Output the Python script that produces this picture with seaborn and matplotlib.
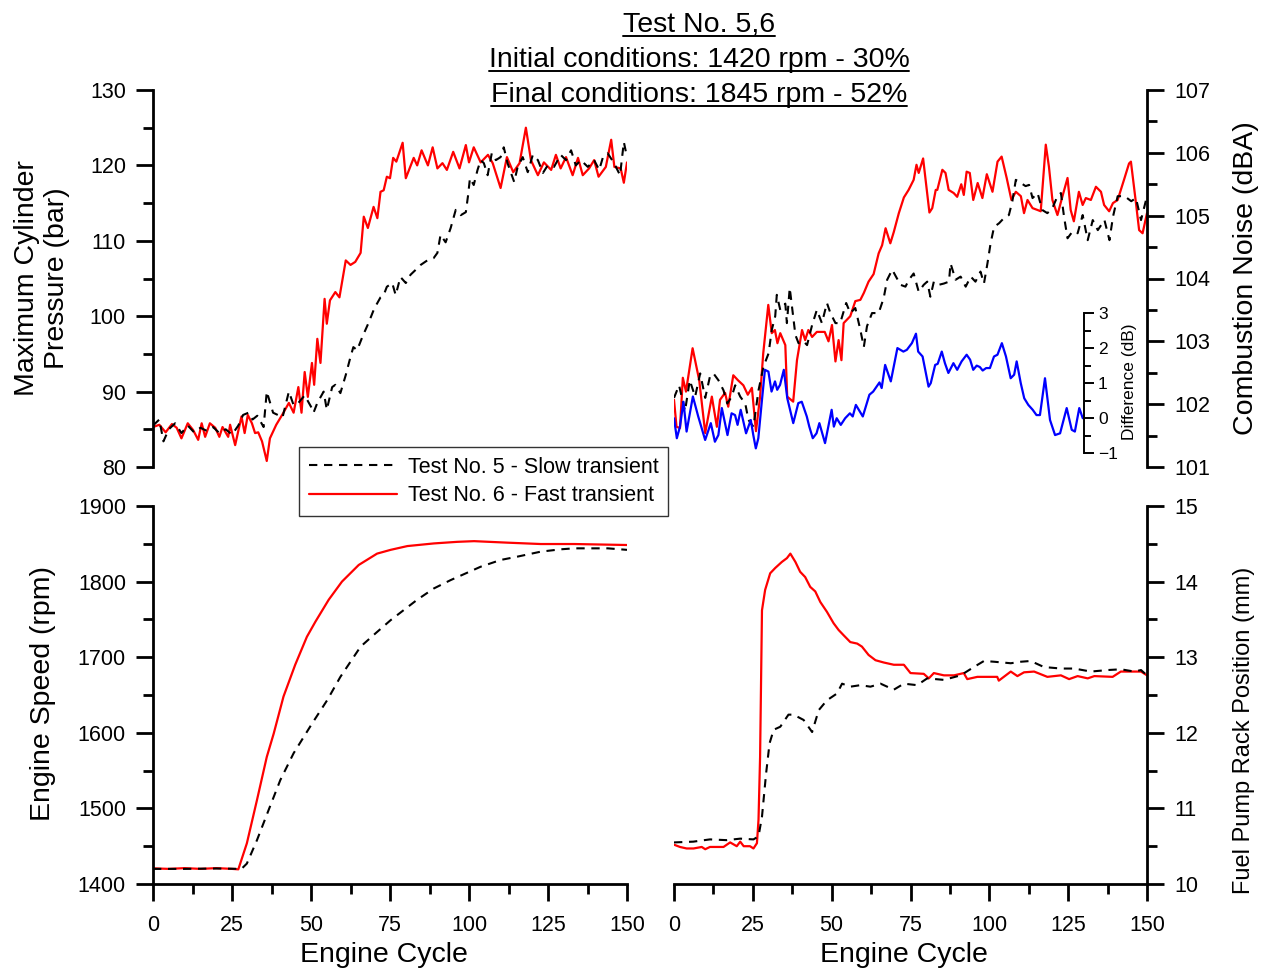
import numpy as np
import pandas as pd
import matplotlib
matplotlib.use("Agg")
import matplotlib.pyplot as plt
import seaborn as sns
from matplotlib.ticker import MultipleLocator
from matplotlib.lines import Line2D
from matplotlib import font_manager

sns.set_style("ticks")
plt.rcParams['font.family'] = ['Liberation Sans', 'DejaVu Sans']
for k in ("text.color", "axes.labelcolor", "xtick.color", "ytick.color", "axes.edgecolor"):
    plt.rcParams[k] = "black"

# ---------------- data (engine cycle, value) ----------------
title_lines = ["Test No. 5,6", "Initial conditions: 1420 rpm - 30%", "Final conditions: 1845 rpm - 52%"]
legend_labels = ["Test No. 5 - Slow transient", "Test No. 6 - Fast transient"]

pressure_t6 = [(0,85.3),(2,85.6),(4,84.6),(6,85.7),(7.5,85.2),(9,83.8),(11,85.8),(12.7,84.9),(14.3,83.6),(15.4,85.8),
 (16.5,84.0),(18,85.8),(19.7,85.2),(21,84.0),(22,85.3),(23.8,84.0),(24.4,85.6),(26,82.9),(28,86.7),(29,84.5),(30,86.9),
 (31.3,85.8),(32.3,84.5),(33.3,84.6),(34.5,83.4),(36,80.8),(37,83.8),(39,85.6),(41,87),(43,88.5),(44.5,87.2),(46,90.6),
 (47,87.2),(48,92.6),(49,89.3),(50.3,93.8),(51,90.9),(52,97),(53,93.8),(54.3,102.3),(55,99),(56,102.1),(57.7,103.2),
 (59,102.5),(61,107.4),(62.5,106.8),(64,107.2),(65.7,108.4),(66.7,113.2),(68,111.7),(69.8,114.5),(71,113),(72,116.5),
 (73,116.7),(74,118.5),(75,118.3),(76,121),(77,120.5),(79,123),(80,118.3),(82.5,121),(83.6,120),(85,122),(87,120),
 (88.5,122.4),(90,119.6),(91.6,120.3),(93,119.4),(95,121.8),(97,119.6),(99,122.7),(100,120.4),(101.5,122.4),(103.7,120.4),
 (106,121.4),(107.5,120.3),(110,117),(112,121.1),(114,119.1),(116,120.3),(118,125),(119.6,120.7),(121.8,118.7),(123.7,120.4),
 (126,119.4),(127.5,121.4),(129,119.6),(130.7,121.1),(132.8,118.7),(134.5,121),(136,118.7),(138,119.6),(139.6,120.7),
 (141,118.5),(143.3,119.8),(145,123.4),(146,119.8),(148,119.6),(149,117.7),(150,120.4)]

pressure_t5 = [(0,85.5),(2,86.3),(3.3,83.4),(5,85),(7,85.8),(9,84.5),(11,85.5),(13,84.6),(15,85.2),(17,84.8),(19,85.3),
 (21,84.5),(23,85),(25,84.3),(27,85.5),(28.5,86.9),(30.2,87.2),(31.5,86.3),(33,86.8),(35,85.3),(36,90),(38,87.2),(41,86.6),
 (43,90),(44.5,88.2),(46,88.5),(48,89.5),(50,88),(50.8,87.2),(52,88.5),(54,90),(55,87.6),(56.7,90.6),(57.7,90.9),(59.3,89.8),
 (61,92.2),(62.5,94.6),(63.4,95.9),(64.6,95.5),(66.3,97.3),(68.2,99.1),(70,101),(72,102.5),(73,102.8),(74,103.9),(75.7,104.4),
 (76.8,102.8),(78.3,105.2),(80,104.4),(81.5,105.5),(83,106.1),(84.7,106.8),(86.8,107.4),(88.8,107.7),(90,108.4),(91,110.8),
 (92.6,109.8),(94.2,111.7),(95.8,114.1),(97.4,113.4),(99,113.8),(99.7,116),(100.3,118.3),(101.5,117.4),(102.7,119.4),
 (103.7,120.7),(104.7,120.3),(105.9,118.7),(107.2,121.6),(108.5,120.7),(110,121.1),(111,122.4),(112.2,120.3),(114.3,117.8),
 (115.4,119.8),(117,121.1),(118.6,119.1),(120.2,121.4),(121.8,120.7),(123.4,119),(124.9,120),(126.9,119.8),(129,121.4),
 (130.7,120.7),(132.3,122),(133.8,120),(135.4,120.7),(137.6,119.8),(139.6,120.7),(141.2,119.4),(142.4,121.1),(143.9,121.6),
 (145.9,120.3),(147.8,118.7),(149,123.1),(150,121.1)]

noise_t6 = [(0,102.07),(0.8,101.64),(1.9,101.62),(2.8,102.42),(3.8,102.2),(5.9,102.89),(8,102.38),(9.9,101.54),(12,102.12),
 (13.6,101.64),(14.6,102.07),(16.2,102.18),(17.2,101.96),(18.8,102.46),(20.3,102.38),(22,102.3),(23.4,102.15),(24.7,102.26),
 (26,101.57),(27.3,102.12),(28.3,102.81),(29.9,103.58),(31,103.13),(32,103.18),(32.8,102.97),(33.7,103.13),(35.3,102.94),
 (35.9,102.12),(37.8,102.04),(39,102.7),(40.6,103.18),(41.6,103.02),(42.6,103.18),(43.8,103.07),(45.3,103.15),(46.9,103.15),
 (47.8,103.15),(49,103.0),(50.1,103.26),(51.2,102.68),(52.2,103.02),(53.1,102.7),(53.8,103.29),(55.9,103.4),(57.5,103.64),
 (59.1,103.66),(60.2,103.77),(61.7,103.95),(63.3,104.07),(64.9,104.4),(66,104.53),(67.1,104.8),(68.6,104.56),(69.7,104.74),
 (71.3,105.04),(72.9,105.29),(74.4,105.41),(76,105.57),(76.9,105.81),(77.6,105.68),(79,105.91),(81,105.05),(81.9,105.12),
 (83,105.41),(83.5,105.41),(85.1,105.73),(86.1,105.68),(87.1,105.41),(88.7,105.36),(89.8,105.3),(91.1,105.5),(91.9,105.33),
 (92.8,105.7),(93.8,105.68),(94.9,105.25),(96.3,105.52),(97.8,105.28),(99.2,105.66),(101,105.38),(102.6,105.86),(103.9,105.94),
 (105.5,105.6),(107,105.25),(108.4,105.38),(110,105.31),(111,105.04),(112.1,105.25),(113.7,105.12),(115.3,105.09),
 (116.3,105.07),(117.9,106.13),(118.9,105.78),(120,105.25),(121.6,105.01),(123.2,105.31),(124.8,105.6),(125.8,105.09),
 (126.8,104.91),(128.4,105.38),(129.6,105.17),(130.6,105.28),(132.2,105.25),(133.8,105.46),(135.4,105.38),(136.4,105.17),
 (138,105.07),(139.2,105.2),(140.7,105.25),(142.7,105.57),(144.3,105.83),(144.9,105.86),(146.5,105.2),(147.5,104.77),
 (148.6,104.72),(150,105.04)]

noise_t5 = [(0,102.1),(1.6,102.3),(3.5,101.89),(5,102.38),(6.7,102.12),(8.3,102.49),(9.9,102.1),(11.4,102.44),(12.5,102.49),
 (14.1,102.38),(15.7,102.22),(16.9,102.01),(18.3,102.12),(19.4,102.3),(21,102.12),(22.6,102.01),(23.6,101.75),(25.2,101.64),
 (26.8,102.22),(28.4,102.6),(30,102.81),(31,103.18),(32.1,103.4),(32.6,103.74),(33.7,103.5),(35.3,103.6),(35.8,103.29),
 (36.7,103.85),(37.4,103.56),(38.5,103.1),(39.5,102.97),(41.1,103.0),(42.2,102.94),(43.8,103.26),(45.3,103.5),(46.9,103.29),
 (48.5,103.61),(49.6,103.45),(51.2,103.29),(52.7,103.29),(54.6,103.61),(55.9,103.45),(57.5,103.53),(59.1,103.18),(60.2,102.91),
 (61.2,103.24),(62.8,103.45),(64.9,103.45),(66.5,103.69),(67.6,103.98),(69.2,104.14),(71.8,103.9),(73.4,103.87),(74.5,103.98),
 (76,104.08),(77.6,103.79),(79.2,103.9),(80.3,103.95),(81.3,103.71),(82.4,103.95),(84,103.9),(85.6,103.92),(87.2,103.95),
 (87.7,104.24),(89.3,103.98),(90.9,104.03),(92.5,103.87),(94.1,104.03),(95.6,103.95),(97.2,104.11),(98.3,103.92),(99.4,104.24),
 (100.4,104.56),(101.5,104.82),(103.1,104.88),(104.6,104.96),(106.2,105.01),(107.3,105.23),(108.4,105.57),(110,105.52),
 (111.5,105.47),(112.6,105.49),(113.7,105.28),(115.3,105.36),(116.8,105.09),(118.4,105.04),(120,105.12),(121.6,105.31),
 (122.7,105.36),(123.7,104.98),(124.8,104.64),(126.4,104.75),(128,104.72),(129.6,105.01),(131.2,104.61),(132.8,104.93),
 (134.4,104.77),(136.5,104.93),(138.1,104.61),(139.2,104.98),(140.7,105.31),(142.9,105.31),(145,105.23),(146.5,105.28),
 (148.1,104.93),(149.7,105.25)]

noise_diff = [(0,0.0),(0.9,-0.57),(1.9,-0.24),(3,0.47),(4,-0.38),(6,0.62),(7.7,0.05),(9.9,-0.62),(11.7,-0.14),(13,-0.67),
 (14.1,-0.48),(15.2,0.29),(17,-0.48),(18.3,0.14),(19.4,0.09),(20.2,-0.19),(21.2,0.24),(22.9,-0.43),(24.4,-0.05),(25.2,-0.48),
 (26,-0.86),(26.8,-0.57),(27.9,0.47),(28.9,1.38),(30,1.33),(31,0.76),(32.1,1.05),(32.8,0.81),(33.7,0.95),(34.9,1.38),(36,0.57),
 (37.9,-0.14),(39.5,0.43),(40.6,0.47),(42.2,0.05),(43,-0.24),(44.1,-0.57),(45.3,-0.43),(46.2,-0.14),(48,-0.71),(50.1,0.24),
 (50.8,-0.24),(51.7,0.0),(53,-0.19),(54.4,0.0),(55.9,0.14),(56.8,0.05),(57.8,0.38),(60,0.05),(62.1,0.67),(63.3,0.76),
 (65.3,1.02),(66,0.86),(67.1,1.52),(68.9,1.05),(71,2.0),(72.9,1.9),(74,1.95),(75.6,2.14),(76.9,2.41),(77.6,1.9),(79,1.76),
 (80.9,0.9),(81.6,1.0),(83,1.52),(83.8,1.55),(85.1,1.9),(86.1,1.57),(87.2,1.29),(88.8,1.57),(90,1.38),(91.4,1.62),(93,1.81),
 (94.1,1.67),(95.1,1.38),(96.2,1.5),(97.2,1.46),(98.1,1.36),(99.2,1.43),(100.4,1.43),(101.7,1.76),(102.8,1.81),(104.2,2.14),
 (105.5,1.76),(107,1.14),(108.1,1.24),(108.9,1.62),(110.2,1.0),(111.3,0.57),(112.6,0.38),(114,0.24),(115.2,0.09),(116.3,0.09),
 (117.9,1.14),(119.5,-0.05),(121.1,-0.48),(122.7,-0.43),(124.8,0.29),(126.4,-0.33),(127.4,-0.38),(128.8,0.29),(129.9,0.0)]

speed_t6 = [(0,1420.7),(5,1420),(10,1421),(15,1420),(20,1421),(25,1420),(27,1419.4),(29.7,1453.8),(32.9,1511),(36,1568),
 (38.2,1599),(41.3,1648),(45,1690),(48.7,1727),(51.4,1747),(55.6,1776),(59.8,1800),(65.1,1822),(70.9,1837),(75.2,1842),
 (80.5,1847),(88.9,1850.5),(96.3,1852.6),(101.6,1853.5),(112.2,1851.5),(122.7,1849.7),(133.3,1849.7),(150,1848.4)]

speed_t5 = [(0,1420),(10,1420),(20,1420.5),(28,1420),(29.7,1427),(32.9,1458),(36.6,1498),(40.3,1537.6),(44.5,1573),
 (50.3,1612),(55.1,1643),(59.3,1674),(65.7,1714),(70.4,1731.5),(75.2,1749),(83.6,1776),(88.9,1791),(94.2,1802),
 (103.7,1819.7),(110,1828.6),(115.3,1833),(122.7,1839.6),(129,1842.7),(133.3,1844),(143.9,1844),(150,1842)]

rack_t6 = [(0,10.52),(1.9,10.49),(4,10.47),(6.2,10.47),(8.8,10.49),(9.9,10.46),(11.4,10.49),(15.7,10.49),(17.8,10.55),
 (19.9,10.5),(21,10.56),(22.1,10.5),(24.1,10.5),(25.2,10.47),(26.3,10.54),(26.8,10.85),(27.3,11.68),(27.9,13.62),(28.9,13.89),
 (30.5,14.11),(32.1,14.18),(34.2,14.26),(35.8,14.31),(36.9,14.37),(38.5,14.26),(40,14.13),(41.6,14.06),(43.2,13.93),
 (44.8,13.87),(46.4,13.73),(48.5,13.6),(50.6,13.45),(52.2,13.36),(53.8,13.29),(55.9,13.2),(58.1,13.18),(59.6,13.14),
 (61.7,13.03),(63.9,12.96),(66.5,12.93),(69.7,12.9),(72.9,12.9),(75,12.79),(79.2,12.78),(80.8,12.72),(82.4,12.79),
 (85.6,12.76),(88.8,12.76),(91.9,12.79),(93,12.71),(96.2,12.74),(102.5,12.74),(103,12.69),(106.8,12.81),(108.9,12.75),
 (111,12.8),(114.2,12.81),(118.4,12.74),(122.7,12.76),(125.3,12.71),(128,12.75),(131.2,12.72),(133.3,12.75),(139.1,12.74),
 (141.7,12.81),(144.9,12.81),(148.1,12.81),(150,12.76)]

rack_t5 = [(0,10.55),(6.1,10.56),(11.4,10.59),(16.7,10.58),(21,10.6),(25.2,10.59),(26.8,10.63),(27.9,10.89),(29.2,11.46),
 (30.3,11.86),(31.6,12.04),(33.7,12.08),(36.3,12.24),(37.9,12.24),(41.1,12.17),(43.8,12.01),(45.9,12.3),(48.5,12.43),
 (51.7,12.52),(53.3,12.65),(55.9,12.61),(59.1,12.63),(62.3,12.61),(65.5,12.65),(69.7,12.57),(72.9,12.65),(77.1,12.63),
 (80.3,12.72),(85.6,12.7),(90.9,12.76),(95.1,12.87),(98.3,12.95),(101.5,12.94),(106.8,12.92),(110,12.94),(113.1,12.95),
 (117.3,12.87),(122.7,12.85),(126.9,12.85),(132.2,12.81),(137.5,12.83),(141.7,12.84),(146,12.81),(148.1,12.83),(150,12.76)]

# ---------------- styling ----------------
W, H = 1271, 974
RED = "#ff0000"
BLACK = "#000000"
BLUE = "#0000ff"
DASH = (0, (4, 3.2))
TICK_FS = 15.5
LABEL_FS = 20.5

installed = {f.name for f in font_manager.fontManager.ttflist}
if "Liberation Sans Narrow" in installed:
    NARROW = dict(family=["Liberation Sans Narrow", "DejaVu Sans"], fontsize=LABEL_FS)
else:
    NARROW = dict(family=["Liberation Sans", "DejaVu Sans"], fontsize=17)

fig = plt.figure(figsize=(W / 100, H / 100), dpi=100)


def px_axes(x0, y0, x1, y1):
    return fig.add_axes([x0 / W, 1 - y1 / H, (x1 - x0) / W, (y1 - y0) / H])


ax_p = px_axes(153, 90, 627, 467)
ax_n = px_axes(674, 90, 1147, 467)
ax_s = px_axes(153, 506, 627, 884)
ax_r = px_axes(674, 506, 1147, 884)
ax_d = px_axes(674, 313, 1084, 453.3)


def draw(ax, series, color, dashed=False, lw=1.6):
    df = pd.DataFrame(series, columns=["cycle", "value"])
    kw = dict(linestyle=DASH) if dashed else {}
    sns.lineplot(data=df, x="cycle", y="value", ax=ax, color=color, lw=lw,
                 estimator=None, sort=False, legend=False, **kw)


draw(ax_p, pressure_t6, RED)
draw(ax_p, pressure_t5, BLACK, dashed=True, lw=1.5)
draw(ax_n, noise_t6, RED)
draw(ax_n, noise_t5, BLACK, dashed=True, lw=1.5)
draw(ax_d, noise_diff, BLUE, lw=1.6)
draw(ax_s, speed_t6, RED)
draw(ax_s, speed_t5, BLACK, dashed=True, lw=1.5)
draw(ax_r, rack_t6, RED)
draw(ax_r, rack_t5, BLACK, dashed=True, lw=1.5)

for ax in (ax_p, ax_n, ax_s, ax_r, ax_d):
    ax.set_facecolor("none")
    for s in ax.spines.values():
        s.set_visible(False)
        s.set_linewidth(2.0)
    ax.set_xlabel("")
    ax.set_ylabel("")
    ax.tick_params(which="major", direction="out", length=12.5, width=2.0, labelsize=TICK_FS,
                   color="black", labelcolor="black", pad=7)
    ax.tick_params(which="minor", direction="out", length=7, width=2.0, color="black")

for ax in (ax_p, ax_n, ax_s, ax_r):
    ax.set_xlim(0, 150)
    ax.xaxis.set_major_locator(MultipleLocator(25))
    ax.xaxis.set_minor_locator(MultipleLocator(12.5))
    ax.tick_params(axis="x", which="major", pad=10)

# top-left: pressure
ax_p.set_ylim(80, 130)
ax_p.yaxis.set_major_locator(MultipleLocator(10))
ax_p.yaxis.set_minor_locator(MultipleLocator(5))
ax_p.spines["left"].set_visible(True)
ax_p.tick_params(axis="x", which="both", bottom=False, labelbottom=False)
ax_p.set_ylabel("Maximum Cylinder\nPressure (bar)", fontsize=LABEL_FS, linespacing=1.2)
ax_p.yaxis.set_label_coords(-0.234, 0.5)

# top-right: noise
ax_n.set_ylim(101, 107)
ax_n.yaxis.set_major_locator(MultipleLocator(1))
ax_n.yaxis.set_minor_locator(MultipleLocator(0.5))
ax_n.spines["right"].set_visible(True)
ax_n.yaxis.tick_right()
ax_n.yaxis.set_label_position("right")
ax_n.tick_params(axis="x", which="both", bottom=False, labelbottom=False)
ax_n.set_ylabel("Combustion Noise (dBA)", fontsize=LABEL_FS)
ax_n.yaxis.set_label_coords(1.209, 0.5)

# inset: difference
ax_d.set_xlim(0, 130.3)
ax_d.set_ylim(-1, 3)
ax_d.yaxis.set_major_locator(MultipleLocator(1))
ax_d.yaxis.set_minor_locator(MultipleLocator(0.5))
ax_d.spines["right"].set_visible(True)
ax_d.spines["right"].set_linewidth(1.4)
ax_d.yaxis.tick_right()
ax_d.yaxis.set_label_position("right")
ax_d.tick_params(axis="x", which="both", bottom=False, labelbottom=False)
ax_d.tick_params(axis="y", which="major", length=7, width=1.4, labelsize=12.5, pad=3)
ax_d.tick_params(axis="y", which="minor", length=5, width=1.4)
ax_d.set_ylabel("Difference (dB)", fontsize=12.5)
ax_d.yaxis.set_label_coords(1.112, 0.507)

# bottom-left: speed
ax_s.set_ylim(1400, 1900)
ax_s.yaxis.set_major_locator(MultipleLocator(100))
ax_s.yaxis.set_minor_locator(MultipleLocator(50))
ax_s.spines["left"].set_visible(True)
ax_s.spines["bottom"].set_visible(True)
ax_s.set_ylabel("Engine Speed (rpm)", fontsize=LABEL_FS)
ax_s.yaxis.set_label_coords(-0.232, 0.505)
ax_s.set_xlabel("Engine Cycle", fontsize=LABEL_FS)
ax_s.xaxis.set_label_coords(0.487, -0.188)

# bottom-right: rack
ax_r.set_ylim(10, 15)
ax_r.yaxis.set_major_locator(MultipleLocator(1))
ax_r.yaxis.set_minor_locator(MultipleLocator(0.5))
ax_r.spines["right"].set_visible(True)
ax_r.spines["bottom"].set_visible(True)
ax_r.yaxis.tick_right()
ax_r.yaxis.set_label_position("right")
ax_r.set_ylabel("Fuel Pump Rack Position (mm)", **NARROW)
ax_r.yaxis.set_label_coords(1.205, 0.407)
ax_r.set_xlabel("Engine Cycle", fontsize=LABEL_FS)
ax_r.xaxis.set_label_coords(0.486, -0.188)

for ax in (ax_p, ax_n, ax_s, ax_r, ax_d):
    ax.yaxis.label.set_va("center")
    ax.yaxis.label.set_ha("center")
    ax.xaxis.label.set_va("center")

# legend
handles = [Line2D([], [], color=BLACK, lw=1.5, linestyle=DASH),
           Line2D([], [], color=RED, lw=1.6)]
fig.legend(handles, legend_labels, loc="upper left",
           bbox_to_anchor=(299 / W, 1 - 447 / H), bbox_transform=fig.transFigure,
           fontsize=15.5, frameon=True, fancybox=False, edgecolor="#333333",
           framealpha=1, borderaxespad=0, borderpad=0.45, handlelength=4.1,
           handletextpad=0.5, labelspacing=0.35)
leg = fig.legends[0]
leg.get_frame().set_linewidth(1.0)

# underlined title
baselines = [31.7, 66.7, 101.7]
texts = []
for line, b in zip(title_lines, baselines):
    texts.append(fig.text(699 / W, 1 - b / H, line, ha="center", va="baseline", fontsize=20.5))
fig.canvas.draw()
renderer = fig.canvas.get_renderer()
for t, b in zip(texts, baselines):
    bb = t.get_window_extent(renderer)
    yline = 1 - (b + 4.3) / H
    fig.add_artist(Line2D([bb.x0 / W, bb.x1 / W], [yline, yline], transform=fig.transFigure,
                          color="black", lw=1.4))

fig.savefig("out.png", dpi=100)
